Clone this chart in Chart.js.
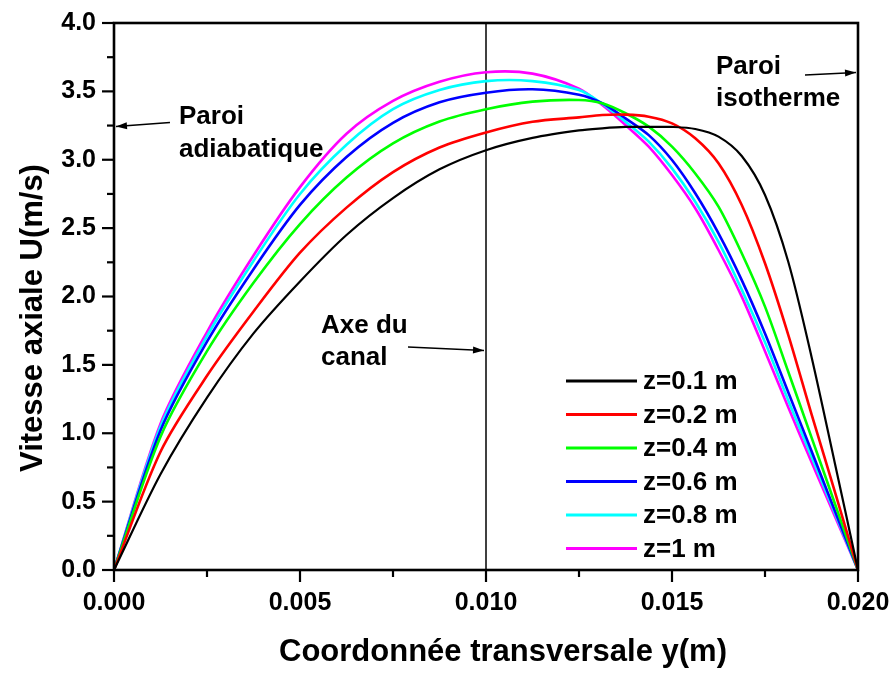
<!DOCTYPE html>
<html>
<head>
<meta charset="utf-8">
<script src="https://cdn.jsdelivr.net/npm/chart.js@4.4.1/dist/chart.umd.min.js"></script>
<style>
  html, body { margin: 0; padding: 0; background: #fff; }
  #wrap { width: 896px; height: 673px; }
</style>
</head>
<body>
<div id="wrap"><canvas id="velChart"></canvas></div>
<script>
// transverse coordinate y (m)
const yPos = [0, 0.00125, 0.0025, 0.00375, 0.005, 0.00625, 0.0075, 0.00875, 0.010, 0.01125, 0.0125,
  0.013125, 0.01375, 0.014375, 0.015, 0.015625, 0.01625, 0.016875, 0.0175, 0.018125, 0.01875, 0.019375, 0.020];

// axial velocity U (m/s) for each z
const u_z01 = [0, 0.70, 1.26, 1.73, 2.11, 2.45, 2.72, 2.93, 3.07, 3.16, 3.215,
  3.23, 3.24, 3.24, 3.24, 3.225, 3.169, 3.027, 2.742, 2.254, 1.56, 0.785, 0];
const u_z02 = [0, 0.865, 1.42, 1.89, 2.32, 2.65, 2.91, 3.09, 3.20, 3.278, 3.31,
  3.327, 3.33, 3.315, 3.266, 3.157, 2.974, 2.669, 2.243, 1.72, 1.14, 0.575, 0];
const u_z04 = [0, 0.975, 1.60, 2.10, 2.53, 2.87, 3.12, 3.28, 3.37, 3.425, 3.437,
  3.413, 3.34, 3.242, 3.096, 2.90, 2.657, 2.316, 1.926, 1.45, 0.97, 0.488, 0];
const u_z06 = [0, 1.02, 1.67, 2.20, 2.67, 3.02, 3.27, 3.42, 3.49, 3.515, 3.475,
  3.413, 3.303, 3.18, 2.998, 2.755, 2.462, 2.12, 1.73, 1.30, 0.87, 0.435, 0];
const u_z08 = [0, 1.05, 1.71, 2.26, 2.75, 3.11, 3.37, 3.51, 3.575, 3.575, 3.51,
  3.41, 3.278, 3.132, 2.937, 2.693, 2.40, 2.05, 1.665, 1.24, 0.83, 0.418, 0];
const u_z10 = [0, 1.07, 1.74, 2.30, 2.80, 3.19, 3.43, 3.57, 3.64, 3.63, 3.52,
  3.40, 3.254, 3.096, 2.888, 2.645, 2.34, 1.999, 1.60, 1.19, 0.79, 0.395, 0];

const seriesLabels = ['z=0.1 m', 'z=0.2 m', 'z=0.4 m', 'z=0.6 m', 'z=0.8 m', 'z=1 m'];
const seriesValues = [u_z01, u_z02, u_z04, u_z06, u_z08, u_z10];
const seriesColors = ['#000000', '#ff0000', '#00ff00', '#0000ff', '#00ffff', '#ff00ff'];

const xTicks = [0, 0.005, 0.010, 0.015, 0.020];
const yTicks = [0, 0.5, 1.0, 1.5, 2.0, 2.5, 3.0, 3.5, 4.0];

const FONT = '"Liberation Sans", Arial, sans-serif';

function arrow(ctx, x1, y1, x2, y2) {
  ctx.beginPath();
  ctx.moveTo(x1, y1);
  ctx.lineTo(x2, y2);
  ctx.stroke();
  const a = Math.atan2(y2 - y1, x2 - x1);
  ctx.beginPath();
  ctx.moveTo(x2, y2);
  ctx.lineTo(x2 - 11 * Math.cos(a) + 3.5 * Math.sin(a), y2 - 11 * Math.sin(a) - 3.5 * Math.cos(a));
  ctx.lineTo(x2 - 11 * Math.cos(a) - 3.5 * Math.sin(a), y2 - 11 * Math.sin(a) + 3.5 * Math.cos(a));
  ctx.closePath();
  ctx.fill();
}

const decorPlugin = {
  id: 'decor',
  beforeDatasetsDraw(chart) {
    const ctx = chart.ctx;
    const xs = chart.scales.x, ys = chart.scales.y;
    // channel axis line
    ctx.save();
    ctx.strokeStyle = '#000';
    ctx.lineWidth = 1.5;
    const xc = xs.getPixelForValue(0.010);
    ctx.beginPath();
    ctx.moveTo(xc, ys.top);
    ctx.lineTo(xc, ys.bottom);
    ctx.stroke();
    ctx.restore();
  },
  afterDraw(chart) {
    const ctx = chart.ctx;
    const xs = chart.scales.x, ys = chart.scales.y;
    const area = chart.chartArea;
    ctx.save();
    // frame
    ctx.strokeStyle = '#000';
    ctx.lineWidth = 2.6;
    ctx.strokeRect(area.left, area.top, area.right - area.left, area.bottom - area.top);

    // ticks, major and minor, pointing outward
    ctx.lineWidth = 2.2;
    for (let v = 0; v <= 4.0001; v += 0.25) {
      const py = ys.getPixelForValue(v);
      const major = Math.abs(v / 0.5 - Math.round(v / 0.5)) < 1e-6;
      ctx.beginPath();
      ctx.moveTo(area.left, py);
      ctx.lineTo(area.left - (major ? 12 : 7), py);
      ctx.stroke();
    }
    for (let i = 0; i <= 8; i++) {
      const px = xs.getPixelForValue(i * 0.0025);
      const major = i % 2 === 0;
      ctx.beginPath();
      ctx.moveTo(px, area.bottom);
      ctx.lineTo(px, area.bottom + (major ? 12 : 7));
      ctx.stroke();
    }

    // axis titles
    ctx.fillStyle = '#000';
    ctx.font = 'bold 31px ' + FONT;
    ctx.textAlign = 'center';
    ctx.textBaseline = 'alphabetic';
    ctx.fillText('Coordonnée transversale y(m)', 503, 661);
    ctx.save();
    ctx.translate(42, 318);
    ctx.rotate(-Math.PI / 2);
    ctx.fillText('Vitesse axiale U(m/s)', 0, 0);
    ctx.restore();

    // annotations
    ctx.font = 'bold 26px ' + FONT;
    ctx.textAlign = 'left';
    ctx.fillText('Paroi', 179, 124);
    ctx.fillText('adiabatique', 179, 157);
    ctx.fillText('Paroi', 716, 74);
    ctx.fillText('isotherme', 716, 106);
    ctx.fillText('Axe du', 321, 333);
    ctx.fillText('canal', 321, 365);
    ctx.lineWidth = 1.3;
    arrow(ctx, 170, 122.5, xs.getPixelForValue(0) + 2, 126.5);
    arrow(ctx, 805, 75, xs.getPixelForValue(0.02) - 2, 72.5);
    arrow(ctx, 408, 347, xs.getPixelForValue(0.010) - 2, 350.5);

    // legend
    ctx.textBaseline = 'middle';
    seriesLabels.forEach((lab, i) => {
      const ly = 381 + 33.5 * i;
      ctx.strokeStyle = seriesColors[i];
      ctx.lineWidth = 3;
      ctx.beginPath();
      ctx.moveTo(566, ly);
      ctx.lineTo(637, ly);
      ctx.stroke();
      ctx.fillStyle = '#000';
      ctx.fillText(lab, 643, ly + 1);
    });
    ctx.restore();
  }
};

const datasets = seriesLabels.map((lab, i) => ({
  label: lab,
  data: yPos.map((x, j) => ({ x: x, y: seriesValues[i][j] })),
  borderColor: seriesColors[i],
  borderWidth: i === 0 ? 2.2 : 2.6,
  pointRadius: 0,
  tension: 0.3,
  fill: false
}));

new Chart(document.getElementById('velChart'), {
  type: 'line',
  data: { datasets: datasets },
  options: {
    responsive: true,
    maintainAspectRatio: false,
    animation: false,
    layout: { padding: { left: 0, top: 23, right: 38, bottom: 0 } },
    plugins: { legend: { display: false }, tooltip: { enabled: false } },
    scales: {
      x: {
        type: 'linear',
        min: 0, max: 0.02,
        afterFit(scale) {
          scale.height = 103;
          scale.paddingLeft = 0;
          scale.paddingRight = 0;
        },
        afterBuildTicks(scale) { scale.ticks = xTicks.map(v => ({ value: v })); },
        grid: { drawOnChartArea: false, drawTicks: false },
        border: { display: false },
        ticks: {
          padding: 18,
          color: '#000',
          font: { family: FONT, size: 25, weight: 'bold' },
          maxRotation: 0,
          callback: v => v.toFixed(3)
        }
      },
      y: {
        type: 'linear',
        min: 0, max: 4,
        afterFit(scale) {
          scale.width = 114;
          scale.paddingTop = 0;
          scale.paddingBottom = 0;
        },
        afterBuildTicks(scale) { scale.ticks = yTicks.map(v => ({ value: v })); },
        grid: { drawOnChartArea: false, drawTicks: false },
        border: { display: false },
        ticks: {
          padding: 18,
          color: '#000',
          font: { family: FONT, size: 25, weight: 'bold' },
          callback: v => v.toFixed(1)
        }
      }
    }
  },
  plugins: [decorPlugin]
});
</script>
</body>
</html>
